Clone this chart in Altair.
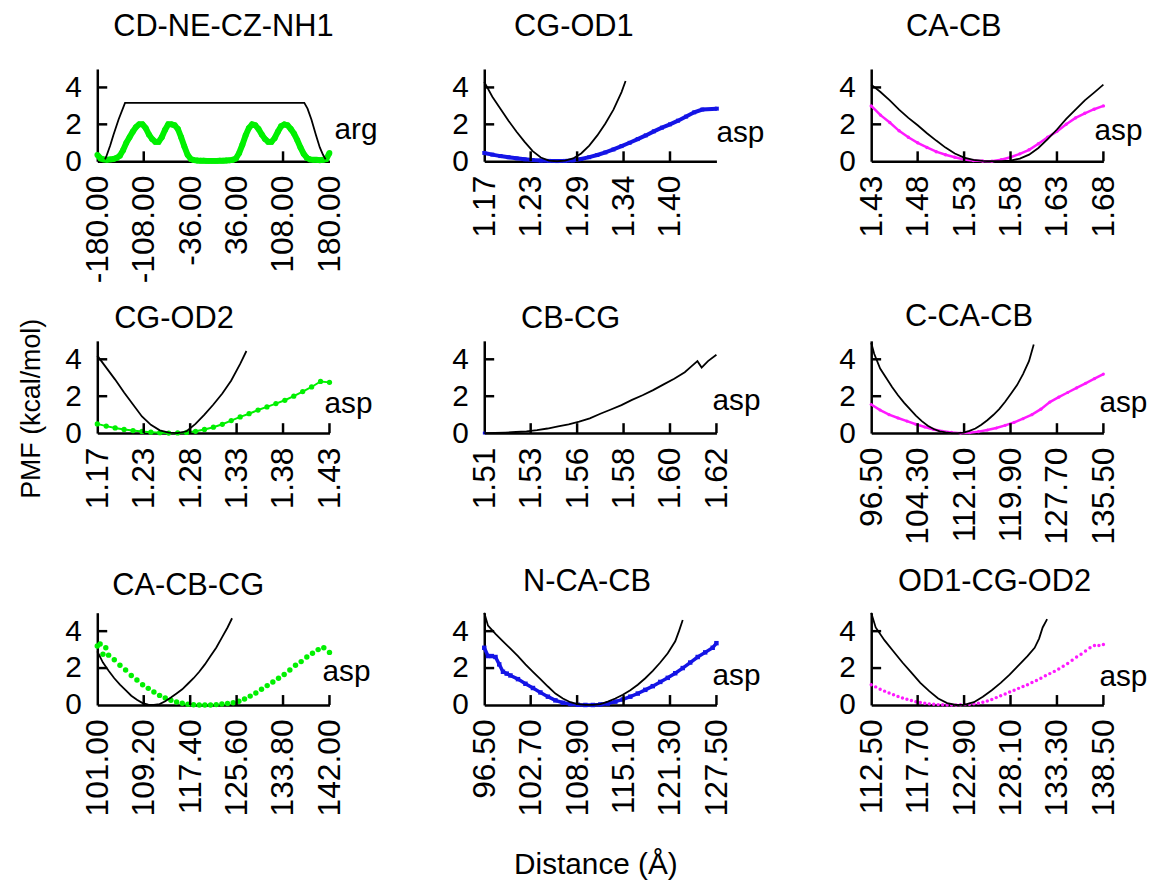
import altair as alt
import pandas as pd
import numpy as np

FONT = "Liberation Sans"

titles = ["CD-NE-CZ-NH1", "CG-OD1", "CA-CB", "CG-OD2", "CB-CG", "C-CA-CB",
          "CA-CB-CG", "N-CA-CB", "OD1-CG-OD2"]
residues = ["arg", "asp", "asp", "asp", "asp", "asp", "asp", "asp", "asp"]
colors = ["#00f000", "#1414e6", "#ff1aff", "#00f000", "#1414e6", "#ff1aff",
          "#00f000", "#1414e6", "#ff1aff"]
x_lo = [-180.0, 1.17, 1.43, 1.17, 1.51, 96.5, 101.0, 96.5, 112.5]
x_hi = [180.0, 1.4575, 1.68, 1.43, 1.62, 135.5, 142.0, 127.5, 138.5]
tick_labels = [
    ["-180.00", "-108.00", "-36.00", "36.00", "108.00", "180.00"],
    ["1.17", "1.23", "1.29", "1.34", "1.40", ""],
    ["1.43", "1.48", "1.53", "1.58", "1.63", "1.68"],
    ["1.17", "1.23", "1.28", "1.33", "1.38", "1.43"],
    ["1.51", "1.53", "1.56", "1.58", "1.60", "1.62"],
    ["96.50", "104.30", "112.10", "119.90", "127.70", "135.50"],
    ["101.00", "109.20", "117.40", "125.60", "133.80", "142.00"],
    ["96.50", "102.70", "108.90", "115.10", "121.30", "127.50"],
    ["112.50", "117.70", "122.90", "128.10", "133.30", "138.50"],
]
# which tick slots carry an inward tick mark
tick_marks = [[1, 4], [1, 2, 3, 4], [1, 2, 3, 4, 5], [1, 2, 3, 4, 5], [1, 2, 3, 4, 5],
              [1, 2, 3, 4, 5], [1, 2, 3, 4, 5], [1, 2, 3, 4, 5], [1, 2, 3, 4, 5]]
label_y = [1.21, 1.05, 1.16, 1.08, 1.24, 1.13, 1.30, 1.09, 1.03]
label_dx = [5, 0, -9, -5, -4, -4, -7, -4, -4]
title_dx = [16, 30, 35, 17, 37, 34, 15, 39, 27]
title_offset = [26, 26, 26, 6, 6, 6, 11, 11, 11]

# ---- panel 1: CD-NE-CZ-NH1 (arg)
p1_ref_x = [-168, -166, -160, -155, -147, -137, 141, 146, 152, 159, 165, 170, 174]
p1_ref_y = [0.1, 0.26, 0.85, 1.42, 2.26, 3.16, 3.16, 2.85, 2.26, 1.42, 0.75, 0.35, 0.1]
p1_pts_x = [-180, -175, -170, -165, -160, -155, -150, -145, -140, -135, -130, -125,
            -120, -115, -110, -105, -100, -95, -90, -85, -80, -75, -70, -65, -60,
            -55, -50, -45, -40, -35, -30, -25, -20, -15, -10, -5, 0, 5, 10, 15, 20,
            25, 30, 35, 40, 45, 50, 55, 60, 65, 70, 75, 80, 85, 90, 95, 100, 105,
            110, 115, 120, 125, 130, 135, 140, 145, 150, 155, 160, 165, 170, 175, 180]
p1_pts_y = [0.35, 0.15, 0.1, 0.08, 0.1, 0.12, 0.18, 0.3, 0.6, 1.0, 1.3, 1.6,
            1.85, 2.0, 2.0, 1.8, 1.45, 1.2, 1.05, 1.05, 1.3, 1.7, 2.0, 2.0, 1.95,
            1.75, 1.3, 0.8, 0.35, 0.12, 0.06, 0.04, 0.03, 0.03, 0.02, 0.02, 0.02, 0.02, 0.03, 0.03, 0.04,
            0.05, 0.08, 0.15, 0.45, 0.9, 1.4, 1.8, 2.0, 1.95, 1.75, 1.45, 1.2, 1.05, 1.05, 1.25, 1.6, 1.9,
            2.0, 1.95, 1.75, 1.5, 1.15, 0.75, 0.4, 0.18, 0.1, 0.08, 0.08, 0.06, 0.08, 0.12, 0.45]

# ---- panel 2: CG-OD1
p2_ref_x = [1.17, 1.18, 1.19, 1.20, 1.21, 1.22, 1.23, 1.24, 1.25, 1.26, 1.27, 1.28,
            1.29, 1.30, 1.31, 1.32, 1.33, 1.34, 1.345]
p2_ref_y = [4.3, 3.5, 2.85, 2.2, 1.6, 1.05, 0.55, 0.2, 0.04, 0.0, 0.03, 0.15,
            0.42, 0.85, 1.4, 2.05, 2.8, 3.75, 4.35]
p2_pts_x = [1.17, 1.18, 1.19, 1.20, 1.21, 1.22, 1.23, 1.24, 1.25, 1.26, 1.27, 1.28,
            1.29, 1.30, 1.31, 1.32, 1.33, 1.34, 1.35, 1.36, 1.37, 1.38, 1.39, 1.40,
            1.41, 1.42, 1.43, 1.44, 1.458]
p2_pts_y = [0.45, 0.36, 0.28, 0.22, 0.16, 0.11, 0.07, 0.04, 0.02, 0.01, 0.02, 0.05,
            0.12, 0.22, 0.34, 0.48, 0.64, 0.82, 1.0, 1.2, 1.4, 1.62, 1.82, 2.0,
            2.2, 2.42, 2.65, 2.8, 2.85]

# ---- panel 3: CA-CB
p3_ref_x = [1.43, 1.44, 1.45, 1.46, 1.47, 1.48, 1.49, 1.50, 1.51, 1.52, 1.53, 1.54,
            1.55, 1.56, 1.57, 1.58, 1.59, 1.60, 1.61, 1.62, 1.63, 1.64, 1.65, 1.66,
            1.67, 1.68]
p3_ref_y = [4.15, 3.75, 3.3, 2.8, 2.35, 1.95, 1.52, 1.12, 0.74, 0.42, 0.2, 0.07,
            0.02, 0.0, 0.0, 0.04, 0.14, 0.36, 0.72, 1.2, 1.72, 2.3, 2.8, 3.3,
            3.72, 4.15]
p3_pts_x = [1.43, 1.44, 1.45, 1.46, 1.47, 1.48, 1.49, 1.50, 1.51, 1.52, 1.53, 1.54,
            1.55, 1.56, 1.57, 1.58, 1.59, 1.60, 1.61, 1.62, 1.63, 1.64, 1.65, 1.66,
            1.67, 1.68]
p3_pts_y = [3.0, 2.5, 2.1, 1.65, 1.3, 1.0, 0.75, 0.52, 0.35, 0.22, 0.1, 0.04,
            0.01, 0.0, 0.08, 0.22, 0.4, 0.62, 0.95, 1.3, 1.62, 2.0, 2.35, 2.6,
            2.82, 3.0]

# ---- panel 4: CG-OD2
p4_ref_x = [1.17, 1.18, 1.19, 1.20, 1.21, 1.22, 1.23, 1.24, 1.25, 1.26, 1.27, 1.28,
            1.29, 1.30, 1.31, 1.32, 1.33, 1.337]
p4_ref_y = [4.2, 3.55, 2.9, 2.2, 1.55, 0.9, 0.45, 0.15, 0.03, 0.0, 0.1, 0.5,
            1.0, 1.55, 2.15, 2.85, 3.75, 4.45]
p4_pts_x = [1.17, 1.18, 1.19, 1.20, 1.21, 1.22, 1.23, 1.24, 1.25, 1.26, 1.27, 1.28,
            1.29, 1.30, 1.31, 1.32, 1.33, 1.34, 1.35, 1.36, 1.37, 1.38, 1.39, 1.40,
            1.41, 1.42, 1.43]
p4_pts_y = [0.5, 0.38, 0.28, 0.2, 0.14, 0.09, 0.05, 0.02, 0.0, 0.01, 0.04, 0.1,
            0.2, 0.32, 0.48, 0.68, 0.88, 1.05, 1.25, 1.42, 1.6, 1.78, 2.0, 2.25,
            2.5, 2.8, 2.75]

# ---- panel 5: CB-CG
p5_ref_x = [1.51, 1.515, 1.52, 1.525, 1.53, 1.535, 1.54, 1.545, 1.55, 1.555, 1.56,
            1.565, 1.57, 1.575, 1.58, 1.585, 1.59, 1.595, 1.60, 1.605, 1.608, 1.611,
            1.613, 1.616, 1.62]
p5_ref_y = [0.0, 0.01, 0.03, 0.06, 0.1, 0.16, 0.25, 0.36, 0.48, 0.62, 0.8,
            1.05, 1.28, 1.52, 1.8, 2.05, 2.33, 2.64, 2.95, 3.3, 3.6, 3.9,
            3.55, 3.9, 4.25]
p5_pts_x = [1.51]
p5_pts_y = [0.0]

# ---- panel 6: C-CA-CB
p6_ref_x = [96.5, 97, 98, 99, 100, 101, 102, 103, 104, 105, 106, 107, 108, 109, 110,
            111, 112, 113, 114, 115, 116, 117, 118, 119, 120, 121, 122, 123, 123.8]
p6_ref_y = [4.9, 4.3, 3.5, 3.0, 2.5, 2.05, 1.65, 1.3, 0.95, 0.65, 0.4, 0.22, 0.1, 0.04, 0.0,
            0.0, 0.03, 0.12, 0.25, 0.45, 0.7, 0.98, 1.3, 1.7, 2.15, 2.6, 3.2, 3.9, 4.8]
p6_pts_x = [96.5, 98, 99.5, 101, 102.5, 104, 105.5, 107, 108.5, 110, 111.5, 113, 114.5,
            116, 117.5, 119, 120.5, 122, 123.5, 125, 126.5, 128, 129.5, 131, 132.5,
            134, 135.5]
p6_pts_y = [1.55, 1.25, 1.0, 0.82, 0.65, 0.48, 0.33, 0.2, 0.1, 0.04, 0.0, 0.02, 0.08,
            0.17, 0.28, 0.42, 0.58, 0.78, 1.0, 1.3, 1.68, 1.95, 2.2, 2.45, 2.7,
            2.95, 3.2]

# ---- panel 7: CA-CB-CG
p7_ref_x = [101, 102, 103, 104, 105, 106, 107, 108, 109, 110, 111, 112, 113, 114, 115,
            116, 117, 118, 119, 120, 121, 122, 123, 124, 124.8]
p7_ref_y = [2.9, 2.3, 1.85, 1.45, 1.1, 0.8, 0.5, 0.28, 0.1, 0.02, 0.0, 0.05, 0.2, 0.4, 0.62,
            0.85, 1.15, 1.45, 1.8, 2.2, 2.65, 3.1, 3.65, 4.2, 4.7]
p7_pts_x = [101, 101.5, 102, 102.5, 103, 104, 105, 106, 107, 108, 109, 110, 111, 112,
            113, 114, 115, 116, 117, 118, 119, 120, 121, 122, 123, 124, 125, 126, 127,
            128, 129, 130, 131, 132, 133, 134, 135, 136, 137, 138, 139, 140, 141, 142]
p7_pts_y = [3.2, 3.3, 2.75, 3.1, 2.7, 2.45, 2.15, 1.9, 1.6, 1.35, 1.1, 0.9, 0.7, 0.52,
            0.38, 0.26, 0.16, 0.09, 0.04, 0.01, 0.0, 0.0, 0.0, 0.02, 0.05, 0.08, 0.12, 0.2, 0.32,
            0.48, 0.65, 0.85, 1.05, 1.25, 1.45, 1.65, 1.9, 2.15, 2.35, 2.6, 2.8, 3.0, 3.1, 2.85]

# ---- panel 8: N-CA-CB
p8_ref_x = [96.5, 97, 98, 99, 100, 101, 102, 103, 104, 105, 106, 107, 108, 109, 110,
            111, 112, 113, 114, 115, 116, 117, 118, 119, 120, 121, 122, 122.5, 123]
p8_ref_y = [5.0, 4.3, 3.85, 3.45, 3.05, 2.65, 2.2, 1.8, 1.4, 1.0, 0.62, 0.35, 0.15, 0.04, 0.0,
            0.0, 0.05, 0.18, 0.35, 0.55, 0.8, 1.1, 1.45, 1.85, 2.3, 2.8, 3.45, 4.0, 4.6]
p8_pts_x = [96.5, 97, 97.5, 98, 98.5, 99, 99.5, 100, 101, 102, 103, 104, 105, 106, 107,
            108, 109, 110, 111, 112, 113, 114, 115, 116, 117, 118, 119, 120, 121, 122,
            123, 124, 125, 126, 127, 127.5]
p8_pts_y = [3.1, 2.65, 2.65, 2.6, 2.2, 1.8, 1.7, 1.6, 1.4, 1.15, 0.92, 0.68, 0.45, 0.25, 0.12,
            0.05, 0.01, 0.0, 0.0, 0.03, 0.08, 0.18, 0.3, 0.45, 0.62, 0.82, 1.02, 1.25, 1.47, 1.72,
            2.0, 2.3, 2.6, 2.85, 3.1, 3.35]

# ---- panel 9: OD1-CG-OD2
p9_ref_x = [112.5, 113, 114, 115, 116, 117, 118, 119, 120, 121, 122, 123, 124, 125,
            126, 127, 128, 129, 130, 130.8, 131.3, 131.7, 132.2]
p9_ref_y = [5.0, 4.2, 3.5, 2.9, 2.3, 1.75, 1.2, 0.75, 0.35, 0.1, 0.0, 0.02, 0.15, 0.45,
            0.8, 1.2, 1.65, 2.15, 2.65, 3.1, 3.6, 4.2, 4.65]
p9_pts_x = [112.5, 113, 113.5, 114, 114.5, 115, 115.5, 116, 116.5, 117, 117.5, 118,
            118.5, 119, 119.5, 120, 120.5, 121, 121.5, 122, 122.5, 123, 123.5, 124,
            124.5, 125, 125.5, 126, 126.5, 127, 127.5, 128, 128.5, 129, 129.5, 130,
            130.5, 131, 131.5, 132, 132.5, 133, 133.5, 134, 134.5, 135, 135.5, 136,
            136.5, 137, 137.5, 138, 138.5]
p9_pts_y = [1.1, 0.98, 0.85, 0.75, 0.65, 0.55, 0.46, 0.38, 0.31, 0.24, 0.18, 0.13,
            0.09, 0.06, 0.04, 0.02, 0.01, 0.0, 0.0, 0.0, 0.01, 0.02, 0.04, 0.07,
            0.1, 0.15, 0.22, 0.3, 0.4, 0.5, 0.6, 0.7, 0.8, 0.9, 1.0, 1.1,
            1.22, 1.33, 1.45, 1.58, 1.7, 1.82, 1.95, 2.1, 2.25, 2.42, 2.6, 2.75,
            2.92, 3.1, 3.22, 3.22, 3.28]

refs = [(p1_ref_x, p1_ref_y), (p2_ref_x, p2_ref_y), (p3_ref_x, p3_ref_y),
        (p4_ref_x, p4_ref_y), (p5_ref_x, p5_ref_y), (p6_ref_x, p6_ref_y),
        (p7_ref_x, p7_ref_y), (p8_ref_x, p8_ref_y), (p9_ref_x, p9_ref_y)]
pts = [(p1_pts_x, p1_pts_y), (p2_pts_x, p2_pts_y), (p3_pts_x, p3_pts_y),
       (p4_pts_x, p4_pts_y), (p5_pts_x, p5_pts_y), (p6_pts_x, p6_pts_y),
       (p7_pts_x, p7_pts_y), (p8_pts_x, p8_pts_y), (p9_pts_x, p9_pts_y)]

# marker styling per panel: (line width, point shape, point size)
styles = [(6, "circle", 34), (4, "square", 16), (2.5, "circle", 12),
          (2, "circle", 28), (0, "square", 8), (2.5, "circle", 10),
          (0, "circle", 30), (3.5, "square", 20), (0, "circle", 12)]

W, H = 234, 93


def make_panel(i):
    lo, hi = x_lo[i], x_hi[i]
    step = (hi - lo) / 5.0
    ticks = [lo + k * step for k in range(6)]
    labs = ",".join("'%s'" % s for s in tick_labels[i])
    label_expr = "[%s][round((datum.value - (%r)) / %r)]" % (labs, lo, step)

    xscale = alt.Scale(domain=[lo, hi], nice=False, zero=False)
    yscale = alt.Scale(domain=[0, 5], nice=False, zero=False)

    xa_kw = dict(values=ticks, labelExpr=label_expr, labelAngle=-90, ticks=False,
                 grid=False, labelFontSize=32, labelPadding=14, domainWidth=2.5,
                 labelFlush=False, labelOverlap=False, title=None)
    if i == 7:
        xa_kw.update(title="Distance (Å)", titleFontSize=30, titleFontWeight="normal",
                     titleX=112, titleY=161, titleBaseline="middle", titleAlign="center")
    ya_kw = dict(values=[0, 2, 4], format="d", ticks=False, grid=False,
                 labelFontSize=30, labelPadding=16, domainWidth=2.5, title=None,
                 labelFlush=False)
    if i == 0:
        # shared y title, hung below the first panel so it sits beside the middle row
        ya_kw.update(title="PMF (kcal/mol)", titleFontSize=27, titleFontWeight="normal",
                     titleX=-66, titleY=342, titleBaseline="middle", titleAlign="center",
                     titleAngle=-90)
    xa = alt.Axis(**xa_kw)
    ya = alt.Axis(**ya_kw)

    def X():
        return alt.X("x:Q", scale=xscale, axis=xa)

    def Y():
        return alt.Y("y:Q", scale=yscale, axis=ya)

    lw, shape, size = styles[i]
    col = colors[i]
    pdf = pd.DataFrame({"x": pts[i][0], "y": pts[i][1]})
    rdf = pd.DataFrame({"x": refs[i][0], "y": refs[i][1]})

    layers = []
    if lw > 0:
        layers.append(alt.Chart(pdf).mark_line(color=col, strokeWidth=lw).encode(x=X(), y=Y()))
    layers.append(alt.Chart(pdf).mark_point(filled=True, shape=shape, size=size, color=col,
                                            opacity=1).encode(x=X(), y=Y()))
    layers.append(alt.Chart(rdf).mark_line(color="black", strokeWidth=1.8).encode(x=X(), y=Y()))

    xt = pd.DataFrame({"x": [ticks[k] for k in tick_marks[i]]})
    layers.append(alt.Chart(xt).mark_rule(color="black", strokeWidth=2.5).encode(
        x=X(), y=alt.value(H), y2=alt.value(H - 10)))
    yt = pd.DataFrame({"y": [2, 4]})
    layers.append(alt.Chart(yt).mark_rule(color="black", strokeWidth=2.5).encode(
        y=Y(), x=alt.value(0), x2=alt.value(10)))

    tdf = pd.DataFrame({"x": [hi], "y": [label_y[i]], "label": [residues[i]]})
    layers.append(alt.Chart(tdf).mark_text(align="left", baseline="alphabetic", fontSize=30,
                                           font=FONT, color="black", dx=label_dx[i]).encode(
        x=X(), y=Y(), text="label:N"))

    return alt.layer(*layers).properties(
        width=W, height=H,
        title=alt.TitleParams(titles[i], anchor="start", frame="group", dx=title_dx[i],
                              offset=title_offset[i], fontSize=31, font=FONT,
                              fontWeight="normal", color="black"))


panels = [make_panel(i) for i in range(9)]
rows = [alt.hconcat(*panels[r * 3:(r + 1) * 3], spacing=156, bounds="flush") for r in range(3)]
chart = alt.vconcat(*rows, spacing=274, bounds="flush").properties(
    padding={"left": 10, "top": 0, "right": 5, "bottom": 5}
).configure_view(stroke=None).configure_axis(
    labelFont=FONT, titleFont=FONT, labelColor="black", titleColor="black",
    domainColor="black"
)

chart.save("out.html", embed_options={"renderer": "svg", "actions": False})
